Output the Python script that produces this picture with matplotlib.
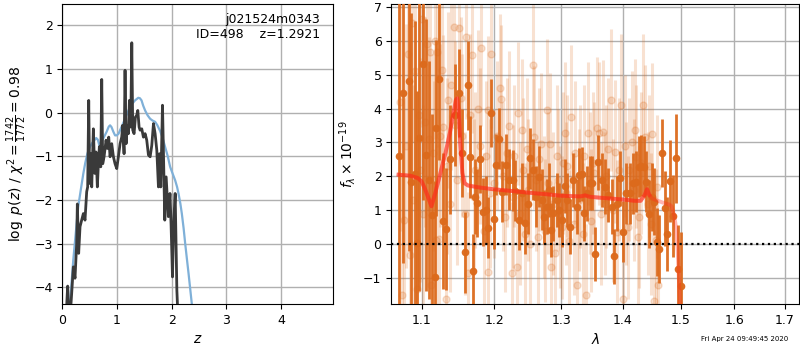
import matplotlib
matplotlib.use("Agg")
import matplotlib.pyplot as plt
from matplotlib.ticker import FixedLocator, NullLocator, NullFormatter

plt.rcParams['font.size'] = 9

# --- p(z) panel ---
pz_z = [0.079, 0.098, 0.116, 0.153, 0.171, 0.202, 0.232, 0.263, 0.275, 0.299,
        0.324, 0.354, 0.385, 0.415, 0.446, 0.464, 0.483, 0.501, 0.519, 0.538,
        0.568, 0.593, 0.617, 0.641, 0.660, 0.678, 0.703, 0.721, 0.739, 0.764,
        0.800, 0.825, 0.849, 0.874, 0.904, 0.935, 0.965, 0.996, 1.026, 1.057,
        1.087, 1.106, 1.130, 1.148, 1.167, 1.191, 1.210, 1.228, 1.252, 1.271,
        1.289, 1.313, 1.338, 1.362, 1.381, 1.405, 1.423, 1.454, 1.484, 1.515,
        1.545, 1.576, 1.607, 1.637, 1.668, 1.698, 1.729, 1.759, 1.778, 1.802,
        1.833, 1.851, 1.875, 1.900, 1.940, 1.970, 1.990, 2.016, 2.035, 2.065,
        2.096, 2.114]
pz_logp = [-4.44, -3.97, -4.48, -4.48, -4.14, -3.53, -3.79, -2.99, -2.09, -3.22,
           -2.61, -2.46, -2.31, -2.46, -1.81, -1.70, 0.28, -1.62, -0.94, -1.70,
           -0.37, -1.39, -0.90, -1.70, -1.17, -0.78, -1.24, 0.76, -1.17, -1.01,
           -0.63, -0.82, -0.56, -1.01, -0.71, -1.01, -1.17, -1.28, -1.01, -0.71,
           -0.56, -0.29, -0.94, 0.97, -0.71, -0.29, -0.48, 0.28, -0.33, 1.60,
           -0.40, -0.48, -0.10, -0.06, 0.05, -0.33, -0.40, -0.37, -0.56, -0.48,
           -0.63, -0.97, -1.01, -0.75, -0.25, -0.48, -0.86, -1.70, -0.94, -1.70,
           0.17, -0.94, -2.46, -1.47, -2.38, -1.85, -2.55, -3.76, -2.60, -1.85,
           -4.06, -4.60]

smooth_z = [0.12, 0.14, 0.20, 0.25, 0.29, 0.34, 0.385, 0.42, 0.458, 0.50,
            0.538, 0.58, 0.62, 0.65, 0.678, 0.71, 0.75, 0.81, 0.85, 0.874,
            0.90, 0.935, 0.965, 0.996, 1.03, 1.057, 1.10, 1.148, 1.20, 1.24,
            1.29, 1.33, 1.39, 1.42, 1.45, 1.48, 1.515, 1.56, 1.607, 1.65,
            1.698, 1.74, 1.79, 1.84, 1.88, 1.93, 1.973, 2.02, 2.065, 2.10,
            2.126, 2.16, 2.187, 2.22, 2.248, 2.28, 2.31, 2.34, 2.37, 2.40]
smooth_logp = [-4.60, -4.38, -3.38, -2.70, -2.16, -1.75, -1.39, -1.15, -0.94, -0.80,
               -0.71, -0.64, -0.58, -0.62, -0.75, -0.68, -0.59, -0.44, -0.32, -0.29,
               -0.33, -0.44, -0.52, -0.52, -0.48, -0.40, -0.28, -0.14, 0.02, 0.13,
               0.22, 0.28, 0.34, 0.33, 0.28, 0.16, 0.05, -0.06, -0.14, -0.18,
               -0.21, -0.29, -0.42, -0.60, -0.78, -1.00, -1.24, -1.40, -1.55, -1.70,
               -1.85, -2.08, -2.31, -2.65, -2.99, -3.35, -3.68, -4.03, -4.38, -4.75]

# --- spectrum panel: binned data (dark) ---
dark_wave = [1.0700, 1.0758, 1.0830, 1.0867, 1.0912, 1.0940, 1.0967, 1.1022, 1.1055, 1.1095,
             1.1137, 1.1173, 1.1196, 1.1233, 1.1282, 1.1323, 1.1380, 1.1442, 1.1501, 1.1542,
             1.1589, 1.1625, 1.1652, 1.1699, 1.1730, 1.1758, 1.1803, 1.1844, 1.1880, 1.1910,
             1.1954, 1.1990, 1.2030, 1.2064, 1.2113, 1.2164, 1.2220, 1.2278, 1.2300, 1.2367,
             1.2410, 1.2452, 1.2490, 1.2527, 1.2567, 1.2616, 1.2666, 1.2700, 1.2740, 1.2776,
             1.2815, 1.2850, 1.2875, 1.2934, 1.2970, 1.3010, 1.3065, 1.3100, 1.3135, 1.3188,
             1.3243, 1.3280, 1.3334, 1.3367, 1.3416, 1.3460, 1.3497, 1.3540, 1.3594, 1.3649,
             1.3703, 1.3756, 1.3821, 1.3854, 1.3900, 1.3946, 1.4000, 1.4048, 1.4118, 1.4166,
             1.4224, 1.4265, 1.4307, 1.4353, 1.4400, 1.4450, 1.4500, 1.4529, 1.4580, 1.4625,
             1.4670, 1.4720, 1.4765, 1.4811, 1.4866, 1.4920, 1.4955, 1.5005]
dark_flux = [2.60, 4.45, 4.81, 1.82, 2.07, 0.03, 3.13, 5.30, 2.63, 1.90,
             0.85, -0.95, 3.42, 4.87, 0.69, 0.44, 2.50, 3.80, 4.45, 2.68,
             -0.24, 4.68, 2.57, -0.79, 1.40, 1.21, 2.51, 0.94, 1.01, 0.49,
             3.88, 0.75, 2.34, 3.11, 1.55, 2.35, 1.90, 1.89, 1.58, 0.72,
             1.50, 0.62, 1.20, 2.53, 2.19, 1.40, 1.99, 1.31, 0.80, 1.11,
             1.60, 0.42, 0.91, 1.31, 1.00, 0.72, 1.72, 1.30, 0.52, 1.89,
             1.11, 2.04, 2.07, 0.91, 1.50, 1.80, 1.80, -0.28, 2.41, 1.89,
             1.70, 1.45, 1.11, -0.36, 1.20, 1.94, 0.37, 1.50, 1.50, 1.80,
             1.84, 2.29, 2.31, 2.29, 1.84, 0.90, 1.40, 1.26, 0.06, -0.14,
             2.68, 1.06, 0.30, 1.86, 0.83, 2.53, -0.72, -1.23]
dark_err = [6.0, 5.0, 5.0, 5.0, 4.5, 4.5, 4.5, 4.0, 4.0, 3.5,
            3.0, 2.8, 2.6, 2.4, 2.0, 1.8, 1.6, 1.5, 1.3, 1.3,
            1.2, 1.3, 1.2, 1.1, 1.1, 1.0, 1.0, 1.0, 1.0, 0.9,
            1.0, 0.9, 0.9, 0.9, 0.9, 0.9, 0.9, 0.9, 0.9, 0.9,
            0.9, 0.9, 0.9, 0.9, 0.9, 0.9, 0.9, 0.9, 0.8, 0.8,
            0.8, 0.8, 0.8, 0.8, 0.8, 0.8, 0.8, 0.8, 0.8, 0.8,
            0.8, 0.8, 0.8, 0.8, 0.8, 0.8, 0.8, 0.8, 0.8, 0.8,
            0.8, 0.8, 0.8, 0.8, 0.8, 0.8, 0.9, 0.9, 0.9, 0.9,
            0.9, 0.9, 0.9, 0.9, 0.9, 1.0, 1.0, 1.0, 1.0, 1.0,
            1.0, 1.1, 1.1, 1.2, 1.2, 1.3, 1.3, 1.6]

# --- spectrum panel: unbinned data (light) ---
light_wave = [1.0715, 1.0748, 1.0771, 1.0795, 1.0820, 1.0853, 1.0871, 1.0890, 1.0908, 1.0940,
              1.0960, 1.0975, 1.1000, 1.1020, 1.1040, 1.1070, 1.1104, 1.1114, 1.1127, 1.1145,
              1.1160, 1.1180, 1.1196, 1.1205, 1.1227, 1.1250, 1.1270, 1.1288, 1.1319, 1.1335,
              1.1351, 1.1375, 1.1397, 1.1433, 1.1450, 1.1470, 1.1501, 1.1525, 1.1550, 1.1580,
              1.1607, 1.1625, 1.1660, 1.1685, 1.1710, 1.1730, 1.1775, 1.1795, 1.1812, 1.1850,
              1.1875, 1.1908, 1.1912, 1.1935, 1.1959, 1.2000, 1.2040, 1.2084, 1.2094, 1.2120,
              1.2150, 1.2185, 1.2218, 1.2254, 1.2270, 1.2290, 1.2328, 1.2343, 1.2370, 1.2403,
              1.2425, 1.2450, 1.2475, 1.2500, 1.2530, 1.2567, 1.2587, 1.2610, 1.2640, 1.2665,
              1.2690, 1.2730, 1.2755, 1.2776, 1.2800, 1.2825, 1.2850, 1.2880, 1.2904, 1.2930,
              1.2960, 1.2985, 1.3010, 1.3035, 1.3058, 1.3080, 1.3100, 1.3130, 1.3162, 1.3200,
              1.3225, 1.3253, 1.3280, 1.3300, 1.3340, 1.3370, 1.3394, 1.3432, 1.3455, 1.3480,
              1.3505, 1.3530, 1.3568, 1.3606, 1.3640, 1.3675, 1.3700, 1.3720, 1.3750, 1.3795,
              1.3830, 1.3865, 1.3903, 1.3935, 1.3963, 1.4000, 1.4030, 1.4060, 1.4085, 1.4110,
              1.4150, 1.4180, 1.4206, 1.4224, 1.4250, 1.4280, 1.4310, 1.4335, 1.4383, 1.4420,
              1.4450, 1.4475, 1.4501, 1.4529, 1.4559, 1.4580, 1.4607]
light_flux = [4.20, -1.49, 0.72, 2.90, 5.60, -0.31, 6.51, 1.30, 5.10, -1.32,
              3.80, 2.20, 6.65, 0.90, 3.60, 5.90, 3.10, 5.67, -1.20, 2.70,
              1.90, 6.00, 0.13, 5.67, 0.15, 3.20, 5.13, 3.46, -1.60, 2.30,
              4.25, 1.20, 4.70, 6.40, 3.50, 1.90, 6.36, 4.30, 3.20, 0.90,
              6.10, -0.85, 3.80, 5.58, 1.40, 2.20, 4.00, 2.90, 5.77, 0.40,
              2.60, -0.82, 3.95, 1.50, 5.62, 1.80, 3.20, 4.59, 4.27, 2.00,
              0.80, 2.70, 3.48, -0.85, 1.40, 2.60, -0.66, 3.86, 0.90, 3.37,
              2.20, 0.30, 2.80, 1.60, 0.00, 5.28, 3.15, 1.90, 0.20, 2.50,
              2.94, 1.10, 0.40, 3.95, 1.80, 2.94, -0.66, 1.20, -0.26, 2.60,
              1.90, 0.80, 0.50, 2.40, 3.27, 1.50, 2.30, 0.10, 3.76, 0.60,
              2.70, -1.20, 1.30, 2.00, 0.30, 2.60, -1.49, 3.27, 1.80, 0.70,
              2.40, 2.10, 3.42, 3.27, 0.90, 3.32, 1.20, 2.00, 2.80, 4.25,
              1.00, 2.73, 0.37, 2.20, 4.10, -1.60, 2.90, 1.50, 0.50, 2.20,
              3.00, 1.60, 3.37, 2.58, 0.20, 0.80, 2.40, 4.10, 3.17, 1.20,
              2.30, 0.60, 3.24, -1.67, 0.13, 1.70, -1.20]
light_err = [3.8, 3.6, 3.6, 3.6, 3.6, 3.5, 3.5, 3.4, 3.4, 3.4,
             3.3, 3.3, 3.2, 3.2, 3.1, 3.1, 3.0, 3.0, 3.0, 2.9,
             2.9, 2.9, 2.8, 2.8, 2.8, 2.7, 2.7, 2.7, 2.6, 2.6,
             2.6, 2.6, 2.5, 2.5, 2.5, 2.5, 2.5, 2.4, 2.4, 2.4,
             2.4, 2.4, 2.4, 2.3, 2.3, 2.3, 2.3, 2.3, 2.3, 2.3,
             2.2, 2.2, 2.2, 2.2, 2.2, 2.2, 2.2, 2.2, 2.2, 2.2,
             2.2, 2.2, 2.2, 2.1, 2.1, 2.1, 2.1, 2.1, 2.1, 2.1,
             2.1, 2.1, 2.1, 2.1, 2.1, 2.1, 2.1, 2.1, 2.1, 2.1,
             2.1, 2.1, 2.1, 2.1, 2.1, 2.1, 2.1, 2.1, 2.1, 2.1,
             2.1, 2.1, 2.1, 2.1, 2.1, 2.1, 2.1, 2.1, 2.1, 2.1,
             2.1, 2.1, 2.1, 2.1, 2.1, 2.1, 2.1, 2.1, 2.1, 2.1,
             2.1, 2.1, 2.1, 2.1, 2.1, 2.1, 2.1, 2.1, 2.1, 2.1,
             2.1, 2.1, 2.1, 2.1, 2.1, 2.1, 2.1, 2.1, 2.1, 2.1,
             2.1, 2.1, 2.1, 2.1, 2.1, 2.1, 2.1, 2.1, 2.1, 2.1,
             2.1, 2.1, 2.1, 2.1, 2.1, 2.1, 2.1]

# --- best-fit model ---
model_wave = [1.070, 1.085, 1.095, 1.100, 1.105, 1.110, 1.113, 1.118, 1.125, 1.132,
              1.138, 1.143, 1.146, 1.148, 1.150, 1.152, 1.155, 1.158, 1.163, 1.180,
              1.200, 1.220, 1.250, 1.280, 1.300, 1.330, 1.338, 1.345, 1.370, 1.400,
              1.420, 1.430, 1.437, 1.441, 1.445, 1.450, 1.460, 1.470, 1.480, 1.484,
              1.488, 1.492, 1.495, 1.497, 1.499]
model_flux = [2.05, 2.02, 1.95, 1.85, 1.60, 1.30, 1.12, 1.50, 2.10, 2.70,
              3.30, 3.90, 4.25, 4.30, 3.90, 3.00, 2.10, 1.80, 1.73, 1.67,
              1.62, 1.58, 1.52, 1.47, 1.43, 1.41, 1.44, 1.40, 1.36, 1.32,
              1.28, 1.28, 1.45, 1.62, 1.45, 1.35, 1.28, 1.22, 1.17, 1.12,
              0.90, 0.50, -0.20, -1.00, -1.80]
n_overlap = 35  # second beam stops near 1.45 um

DARK = '#dc6a1c'

fig = plt.figure(figsize=(8, 3.5), dpi=100)
ax1 = fig.add_axes([0.0779, 0.1314, 0.3388, 0.8563])
ax2 = fig.add_axes([0.4891, 0.1314, 0.5100, 0.8563])

ax1.plot(smooth_z, smooth_logp, color='#7fb0d8', lw=1.6, zorder=2)
ax1.plot(pz_z, pz_logp, color='#3a3a3a', lw=2, zorder=3)
ax1.set_xlim(0, 4.96)
ax1.set_ylim(-4.38, 2.48)
ax1.set_xticks([0, 1, 2, 3, 4])
ax1.set_yticks([-4, -3, -2, -1, 0, 1, 2])
ax1.grid(color='#b0b0b0', lw=1)
ax1.set_xlabel('$z$', fontsize=10)
ax1.set_ylabel(r'$\log\ p(z)$ / $\chi^2=\frac{1742}{1772}=0.98$', fontsize=10)
ax1.text(0.95, 0.97, 'j021524m0343\nID=498    z=1.2921', transform=ax1.transAxes,
         ha='right', va='top', fontsize=9)

ax2.errorbar(light_wave, light_flux, yerr=light_err, fmt='o', color=DARK, alpha=0.2,
             ms=5, elinewidth=2.2, capsize=0, zorder=2)
ax2.errorbar(dark_wave, dark_flux, yerr=dark_err, fmt='o', color=DARK, alpha=0.95,
             ms=4.5, elinewidth=2, capsize=0, zorder=3)
ax2.plot(model_wave, model_flux, color='#ff2a1a', alpha=0.35, lw=2.8, zorder=4)
ax2.plot(model_wave[:n_overlap], model_flux[:n_overlap], color='#ff2a1a', alpha=0.5,
         lw=2.8, zorder=4)
ax2.axhline(0, color='k', ls=':', lw=1.6, zorder=5)

ax2.set_xscale('log')
ax2.set_xlim(1.0607, 1.7294)
ax2.set_ylim(-1.76, 7.07)
ax2.xaxis.set_major_locator(FixedLocator([1.1, 1.2, 1.3, 1.4, 1.5, 1.6, 1.7]))
ax2.set_xticklabels(['1.1', '1.2', '1.3', '1.4', '1.5', '1.6', '1.7'])
ax2.xaxis.set_minor_locator(NullLocator())
ax2.xaxis.set_minor_formatter(NullFormatter())
ax2.set_yticks([-1, 0, 1, 2, 3, 4, 5, 6, 7])
ax2.grid(color='#b0b0b0', lw=1)
ax2.set_xlabel(r'$\lambda$', fontsize=10)
ax2.set_ylabel(r'$f_\lambda\times10^{-19}$', fontsize=10)

fig.text(0.876, 0.031, 'Fri Apr 24 09:49:45 2020', fontsize=5, ha='left', va='center')

fig.savefig('out.png', dpi=100)
